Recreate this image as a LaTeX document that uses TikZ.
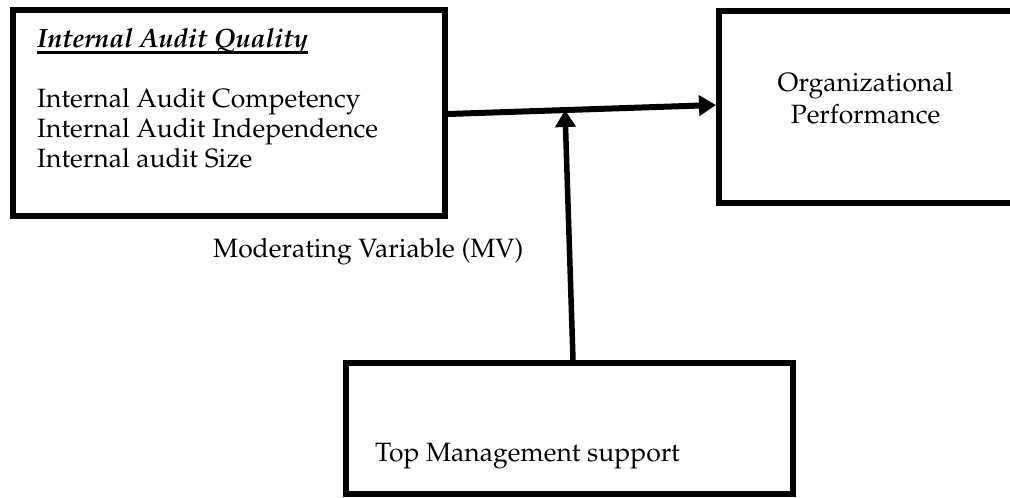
\documentclass[tikz,border=0pt]{standalone}
\usepackage[T1]{fontenc}
\usepackage{mathpazo}
\usetikzlibrary{arrows.meta}
\newcommand{\ulthick}[1]{\setbox0\hbox{#1}\rlap{\rule[-6.5pt]{\wd0}{2.2pt}}\box0}
\tikzset{
	varbox/.style={draw, line width=6pt, minimum width=#1, inner sep=0pt},
	lbl/.style={font=\fontsize{26.5}{30}\selectfont, inner sep=0pt, align=left},
	bigarrow/.style={line width=6pt, -{Triangle[length=17pt,width=20pt]}},
	uparrow/.style={line width=5.5pt, -{Triangle[length=17pt,width=20pt]}}
}
\begin{document}
\begin{tikzpicture}[x=1pt, y=-1pt]
	\useasboundingbox (0,0) rectangle (1010,498);
	\clip (0,0) rectangle (1010,498);
	% boxes
	\node[varbox=432pt, minimum height=206pt] (iaq) at (229,113) {};
	\node[varbox=330pt, minimum height=192pt] (perf) at (884,107) {};
	\node[varbox=447pt, minimum height=131pt] (tms) at (569.5,428.5) {};
	% texts (base of a multi-line node = its last line)
	\node[lbl, anchor=base west] (iaqtitle) at (37,47) {\ulthick{\textbf{\textit{Internal Audit Quality}}}};
	\node[lbl, anchor=base west] (iaqitems) at (37,167) {Internal Audit Competency\\Internal Audit Independence\\Internal audit Size};
	\node[lbl, align=center, anchor=base, font=\fontsize{26.5}{32}\selectfont] (perftext) at (865.5,123) {Organizational\\Performance};
	\node[lbl, anchor=base west] (mv) at (213,257) {Moderating Variable (MV)};
	\node[lbl, anchor=base west] (tmstext) at (375,461) {Top Management support};
	% arrows
	\coordinate (join) at (565,110);
	\draw[bigarrow] ([yshift=-1pt]iaq.east) -- ([yshift=2pt]perf.west);
	\draw[uparrow] ([xshift=3.5pt]tms.north) -- (join);
\end{tikzpicture}
\end{document}
